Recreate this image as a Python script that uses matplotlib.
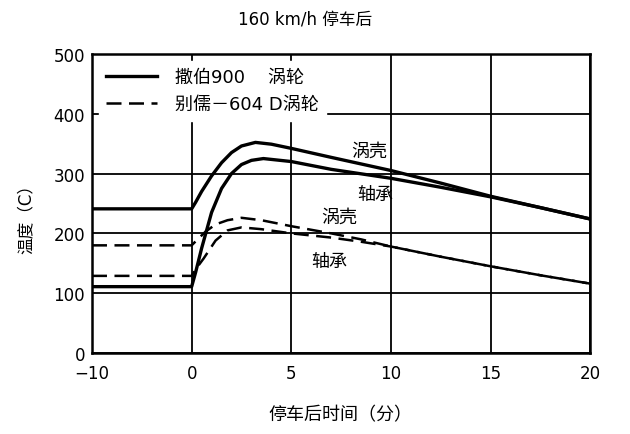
import matplotlib
matplotlib.use("Agg")
import matplotlib.pyplot as plt
import numpy as np

plt.rcParams["font.family"] = ["DejaVu Sans", "Noto Sans CJK SC"]

# Saab 900 turbo (solid)
saab_case_x = [-10, 0, 0.2, 0.5, 1.0, 1.5, 2.0, 2.5, 3.2, 4, 5, 7, 10, 12.5, 15, 17.5, 20]
saab_case_y = [241, 241, 252, 270, 296, 318, 335, 346, 352, 349, 342, 327, 305, 284, 262, 243, 224]
saab_bear_x = [-10, 0, 0.2, 0.5, 1.0, 1.5, 2.0, 2.5, 3.0, 3.6, 5, 7, 10, 12.5, 15, 17.5, 20]
saab_bear_y = [111, 111, 135, 175, 235, 275, 300, 315, 322, 325, 320, 307, 292, 277, 261, 243, 224]

# Buick 604 D turbo (dashed)
buick_case_x = [-10, 0, 0.3, 0.7, 1.2, 1.8, 2.5, 3.5, 5, 7, 8.5, 10, 12.5, 15, 17.5, 20]
buick_case_y = [180, 180, 190, 203, 215, 222, 226, 222, 212, 200, 190, 178, 161, 145, 130, 116]
buick_bear_x = [-10, 0, 0.2, 0.6, 1.2, 1.8, 2.5, 3.5, 5, 7, 8.5, 10, 12.5, 15, 17.5, 20]
buick_bear_y = [129, 129, 140, 158, 188, 205, 210, 207, 200, 193, 186, 178, 161, 145, 130, 116]

x_ticks = [-10, 0, 5, 10, 15, 20]
x_labels = ["\u221210", "0", "5", "10", "15", "20"]
y_ticks = [0, 100, 200, 300, 400, 500]


# the minutes before stopping are drawn at half scale
def fwd(x):
    x = np.asarray(x, dtype=float)
    return np.where(x < 0, x / 2, x)


def inv(x):
    x = np.asarray(x, dtype=float)
    return np.where(x < 0, x * 2, x)


fig = plt.figure(figsize=(6.3, 4.35), dpi=100)
ax = fig.add_axes([0.146, 0.186, 0.791, 0.688])
ax.set_xscale("function", functions=(fwd, inv))

ax.plot(saab_case_x, saab_case_y, color="black", lw=2.4, label="撒伯900    涡轮", zorder=3)
ax.plot(saab_bear_x, saab_bear_y, color="black", lw=2.4, zorder=3)
ax.plot(buick_case_x, buick_case_y, color="black", lw=1.8, dashes=(6, 3), label="别儒－604 D涡轮", zorder=3)
ax.plot(buick_bear_x, buick_bear_y, color="black", lw=1.8, dashes=(6, 3), zorder=3)

ax.set_xlim(-10, 20)
ax.set_ylim(0, 500)
ax.set_xticks(x_ticks)
ax.set_xticklabels(x_labels)
ax.set_xticks([], minor=True)
ax.set_yticks(y_ticks)
ax.tick_params(length=0, labelsize=12)
ax.tick_params(axis="x", pad=8)
ax.tick_params(axis="y", pad=5)
for s in ax.spines.values():
    s.set_linewidth(1.8)
ax.grid(True, color="black", lw=1.3)
ax.set_axisbelow(True)

ax.text(8.9, 338, "涡壳", fontsize=13, ha="center", va="center")
ax.text(9.2, 266, "轴承", fontsize=13, ha="center", va="center")
ax.text(7.4, 228, "涡壳", fontsize=13, ha="center", va="center")
ax.text(6.9, 154, "轴承", fontsize=13, ha="center", va="center")

leg = ax.legend(loc="upper left", fontsize=13, frameon=True, handlelength=2.8,
                handletextpad=1.0, borderaxespad=0.4, labelspacing=0.5)
leg.get_frame().set_facecolor("white")
leg.get_frame().set_edgecolor("white")
leg.get_frame().set_alpha(1)

fig.text(0.485, 0.955, "160 km/h 停车后", fontsize=12, ha="center", va="center")
fig.text(0.54, 0.045, "停车后时间（分）", fontsize=13, ha="center", va="center")
fig.text(0.04, 0.505, "温度（C）", fontsize=12, ha="center", va="center", rotation=90)

fig.savefig("out.png", dpi=100)
